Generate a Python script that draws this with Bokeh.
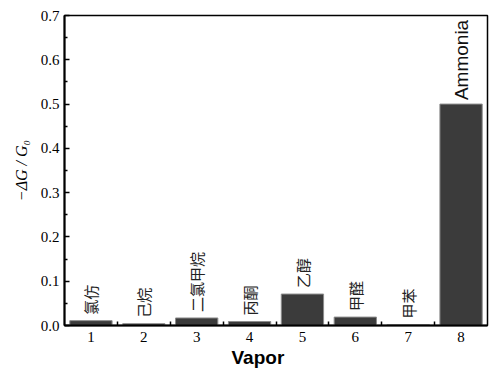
from bokeh.plotting import figure
from bokeh.models import FixedTicker, Range1d, Title, ColumnDataSource, NumeralTickFormatter
from bokeh.core.properties import value
from bokeh.embed import file_html
from bokeh.resources import INLINE
import math

vapor_index = [1, 2, 3, 4, 5, 6, 7, 8]
vapor_names = ["氯仿", "己烷", "二氯甲烷", "丙酮", "乙醇", "甲醛", "甲苯", "Ammonia"]
response = [0.011, 0.004, 0.017, 0.009, 0.071, 0.019, 0.002, 0.500]
y_ticks = [0.0, 0.1, 0.2, 0.3, 0.4, 0.5, 0.6, 0.7]

p = figure(width=497, height=371, output_backend="svg", toolbar_location=None,
           x_range=Range1d(0.5, 8.5), y_range=Range1d(0, 0.7),
           min_border_left=64, min_border_right=10, min_border_top=15, min_border_bottom=46)
p.grid.visible = False
p.background_fill_color = "white"
p.border_fill_color = "white"
p.outline_line_color = "black"
p.outline_line_width = 1.5

src = ColumnDataSource(dict(x=vapor_index, top=response, name=vapor_names))
p.vbar(x="x", top="top", width=0.8, bottom=0, source=src,
       fill_color="#3b3b3b", line_color="#8c8c8c", line_width=1)

cjk = ColumnDataSource(dict(x=vapor_index[:7], y=response[:7], t=vapor_names[:7]))
p.text(x="x", y="y", text="t", source=cjk, angle=math.pi / 2,
       text_align="left", text_baseline="middle", y_offset=-6,
       text_font=value("Noto Sans CJK SC"), text_font_size="15px", text_color="#222222")
lat = ColumnDataSource(dict(x=vapor_index[7:], y=response[7:], t=vapor_names[7:]))
p.text(x="x", y="y", text="t", source=lat, angle=math.pi / 2,
       text_align="left", text_baseline="middle", y_offset=-4,
       text_font=value("Liberation Sans"), text_font_size="19px", text_color="#111111")

# x axis
xa = p.xaxis[0]
xa.ticker = FixedTicker(ticks=vapor_index, minor_ticks=[i + 0.5 for i in vapor_index[:-1]])
xa.major_tick_in = 0
xa.major_tick_out = 0
xa.minor_tick_in = 4
xa.minor_tick_out = 0
xa.minor_tick_line_width = 1.5
xa.axis_line_width = 2
xa.major_label_text_font = "Liberation Serif"
xa.major_label_text_font_size = "15px"
xa.major_label_text_color = "black"
xa.major_label_standoff = 6

# y axis
ya = p.yaxis[0]
ya.ticker = FixedTicker(ticks=y_ticks, minor_ticks=[t + 0.05 for t in y_ticks[:-1]])
ya.formatter = NumeralTickFormatter(format="0.0")
ya.major_tick_in = 5
ya.major_tick_out = 0
ya.minor_tick_in = 3
ya.minor_tick_out = 0
ya.major_tick_line_width = 1.5
ya.minor_tick_line_width = 1.5
ya.axis_line_width = 2
ya.major_label_text_font = "Liberation Serif"
ya.major_label_text_font_size = "15px"
ya.major_label_text_color = "black"
ya.major_label_standoff = 5
ya.axis_label = "−ΔG / G₀"
ya.axis_label_text_font = "Liberation Serif"
ya.axis_label_text_font_style = "italic"
ya.axis_label_text_font_size = "16px"
ya.axis_label_text_color = "black"
ya.axis_label_standoff = 8

p.add_layout(Title(text="Vapor", align="left", offset=167, standoff=0,
                   text_font="Liberation Sans", text_font_style="bold",
                   text_font_size="19px", text_color="black", text_line_height=1.0), "below")

open("out.html", "w").write(file_html(p, INLINE))
